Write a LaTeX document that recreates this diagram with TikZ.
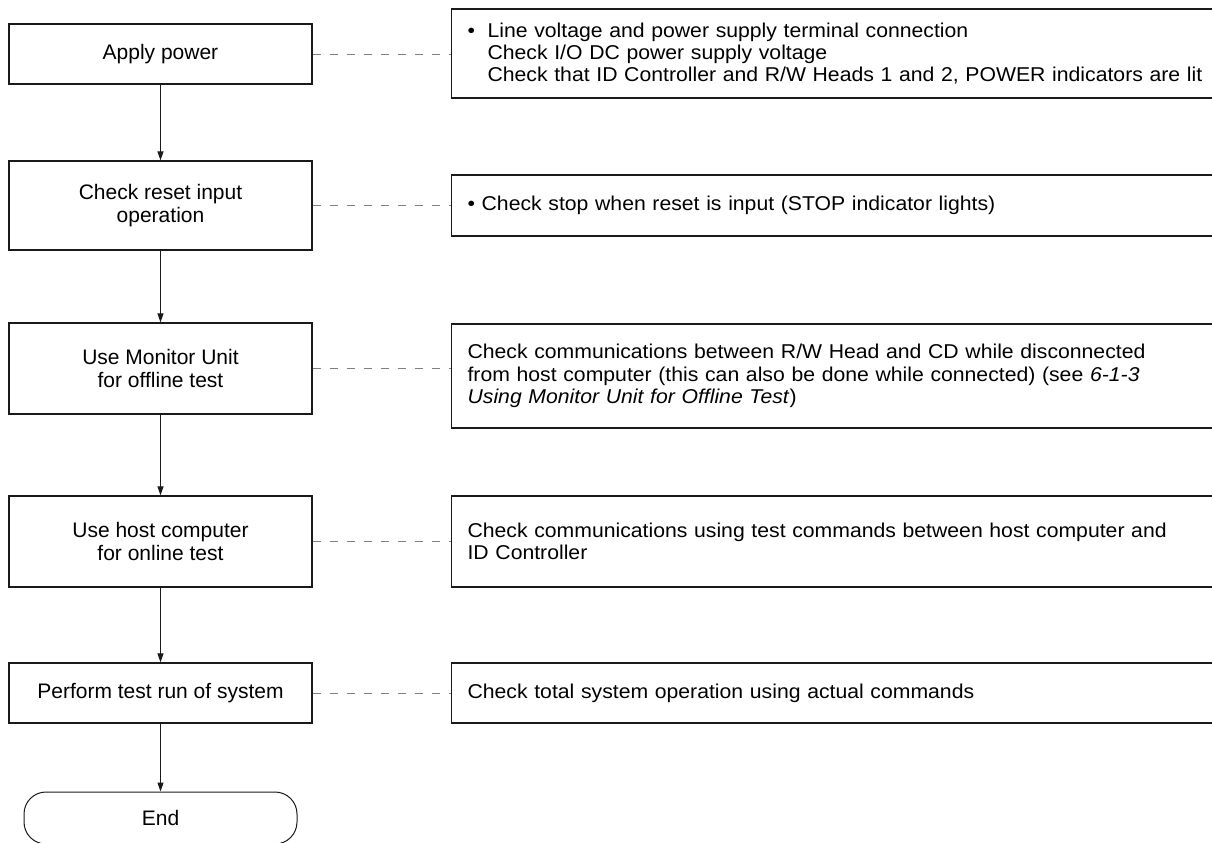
\documentclass[tikz,border=0pt]{standalone}
\usepackage{fontspec}
\setmainfont{Liberation Sans}
\newfontfamily\notefont[FakeStretch=1.06]{Liberation Sans}
\usepackage{tikz}
\usetikzlibrary{arrows.meta}
\definecolor{ink}{HTML}{1A1A1A}
\definecolor{rule}{HTML}{808080}
\tikzset{stepbox/.style={rectangle,draw=ink,line width=0.6pt,minimum width=151.5pt,inner sep=2pt,align=center,font=\fontsize{10.5}{11.3}\selectfont},
  notebox/.style={rectangle,draw=ink,line width=0.6pt,anchor=west,text width=385pt,inner xsep=8pt,inner ysep=2pt,align=left,font=\notefont\fontsize{10}{11.2}\selectfont},
  endbox/.style={rectangle,draw=ink,line width=0.5pt,rounded corners=11pt,minimum width=136.5pt,minimum height=26pt,font=\fontsize{10.5}{11.3}\selectfont},
  flow/.style={ink,line width=0.5pt,-{Triangle[length=4.5pt,width=3pt]}},
  link/.style={rule,line width=0.5pt,dash pattern=on 4pt off 4.5pt}}

\begin{document}
\begin{tikzpicture}[x=1pt,y=-1pt]
\useasboundingbox (0,0) rectangle (606,421);
% steps
\node[stepbox,minimum height=30pt] (s1) at (80.25,27) {Apply power};
\node[stepbox,minimum height=44.5pt] (s2) at (80.25,102.75) {Check reset input\\operation};
\node[stepbox,minimum height=45.5pt] (s3) at (80.25,184.25) {Use Monitor Unit\\for offline test};
\node[stepbox,minimum height=45.5pt] (s4) at (80.25,270.75) {Use host computer\\for online test};
\node[stepbox,minimum height=30pt] (s5) at (80.25,346.5) {Perform test run of system};
\node[endbox] (fin) at (80.25,409) {End};
% notes
\node[notebox,minimum height=44.5pt] (n1) at (225.5,26.75) {\makebox[10pt][l]{\textbullet}Line voltage and power supply terminal connection\\
  \hspace*{10pt}Check I/O DC power supply voltage\\
  \hspace*{10pt}Check that ID Controller and R/W Heads 1 and 2, POWER indicators are lit};
\node[notebox,minimum height=30.5pt] (n2) at (225.5,102.75) {\textbullet\ Check stop when reset is input (STOP indicator lights)};
\node[notebox,minimum height=52pt] (n3) at (225.5,188) {Check communications between R/W Head and CD while disconnected\\
  from host computer (this can also be done while connected) (see \textit{6-1-3}\\
  \textit{Using Monitor Unit for Offline Test})};
\node[notebox,minimum height=45.5pt] (n4) at (225.5,270.75) {Check communications using test commands between host computer and\\ID Controller};
\node[notebox,minimum height=30pt] (n5) at (225.5,346.5) {Check total system operation using actual commands};
% connectors
\foreach \a/\b in {s1/s2,s2/s3,s3/s4,s4/s5,s5/fin}
  \draw[flow] (\a) -- (\b);
\foreach \i in {1,...,5}
  \draw[link] (s\i.east) -- (s\i.east -| n\i.west);
\end{tikzpicture}
\end{document}
